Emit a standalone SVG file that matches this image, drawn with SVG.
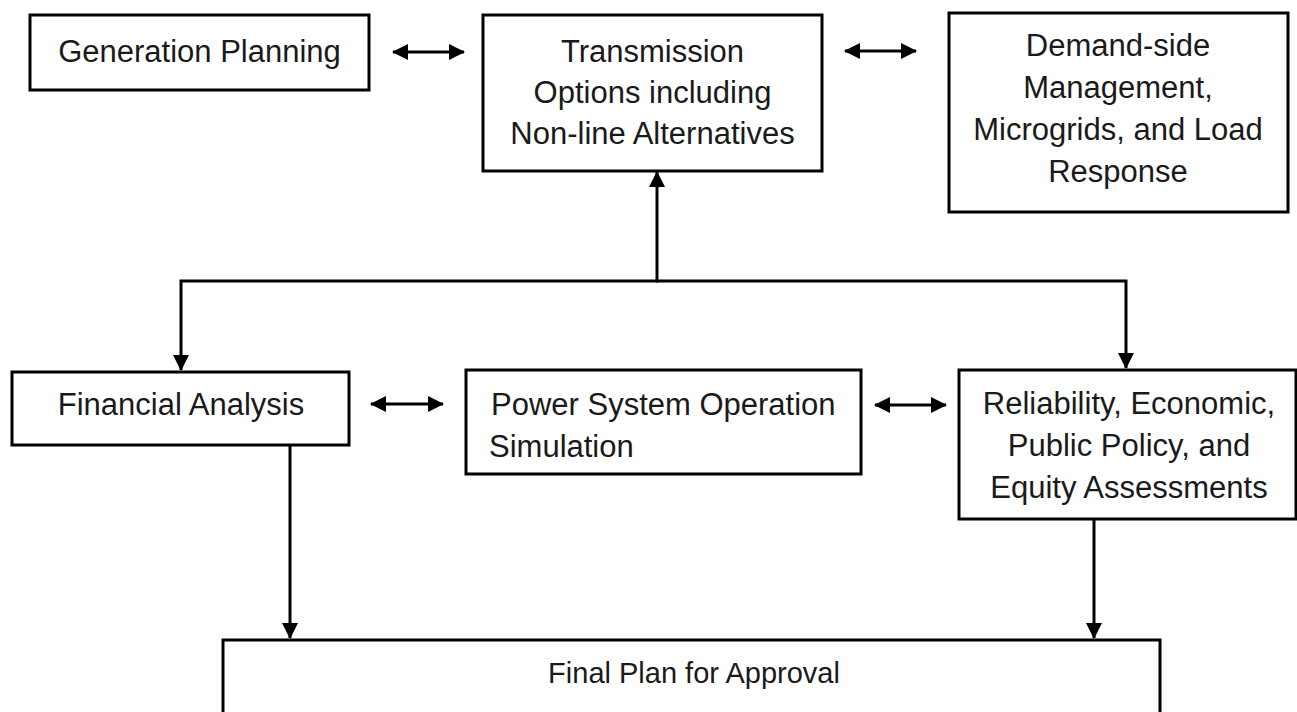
<svg xmlns="http://www.w3.org/2000/svg" width="1297" height="712" viewBox="0 0 1297 712">
<style>
.box{fill:#ffffff;stroke:#000000;stroke-width:3}
.t{font-family:"Liberation Sans",Arial,sans-serif;font-size:31px;fill:#1a1a1a;text-anchor:middle}
.ts{text-anchor:start}
.c{fill:none;stroke:#000000;stroke-width:3}
</style>
<defs>
<marker id="ah" viewBox="0 0 16 16" refX="15" refY="8" markerWidth="16" markerHeight="16" markerUnits="userSpaceOnUse" orient="auto-start-reverse">
<path d="M0,0 L16,8 L0,16 z" fill="#000000"/>
</marker>
</defs>
<rect width="1297" height="712" fill="#ffffff"/>
<g id="connectors">
<line class="c" x1="393" y1="52" x2="464" y2="52" marker-start="url(#ah)" marker-end="url(#ah)"/>
<line class="c" x1="845" y1="51" x2="916" y2="51" marker-start="url(#ah)" marker-end="url(#ah)"/>
<line class="c" x1="657" y1="281" x2="657" y2="172" marker-end="url(#ah)"/>
<polyline class="c" points="658,281 181,281 181,370" marker-end="url(#ah)"/>
<polyline class="c" points="656,281 1126,281 1126,368" marker-end="url(#ah)"/>
<line class="c" x1="371" y1="404" x2="443" y2="404" marker-start="url(#ah)" marker-end="url(#ah)"/>
<line class="c" x1="875" y1="405" x2="946" y2="405" marker-start="url(#ah)" marker-end="url(#ah)"/>
<line class="c" x1="290" y1="446" x2="290" y2="638" marker-end="url(#ah)"/>
<line class="c" x1="1094" y1="519" x2="1094" y2="638" marker-end="url(#ah)"/>
</g>
<g id="generation">
<rect class="box" x="30" y="15" width="339" height="75"/>
<text class="t" x="199.5" y="62">Generation Planning</text>
</g>
<g id="transmission">
<rect class="box" x="483" y="15" width="339" height="156"/>
<text class="t" x="652.5" y="62">Transmission</text>
<text class="t" x="652.5" y="103">Options including</text>
<text class="t" x="652.5" y="144">Non-line Alternatives</text>
</g>
<g id="demand">
<rect class="box" x="949" y="13" width="339" height="199"/>
<text class="t" x="1118" y="56">Demand-side</text>
<text class="t" x="1118" y="98">Management,</text>
<text class="t" x="1118" y="140">Microgrids, and Load</text>
<text class="t" x="1118" y="182">Response</text>
</g>
<g id="financial">
<rect class="box" x="12" y="372" width="337" height="73"/>
<text class="t" x="181" y="415">Financial Analysis</text>
</g>
<g id="power">
<rect class="box" x="466" y="370" width="395" height="104"/>
<text class="t ts" x="491" y="415">Power System Operation</text>
<text class="t ts" x="489" y="457">Simulation</text>
</g>
<g id="reliability">
<rect class="box" x="959" y="370" width="337" height="149"/>
<text class="t" x="1129" y="414">Reliability, Economic,</text>
<text class="t" x="1129" y="456">Public Policy, and</text>
<text class="t" x="1129" y="498">Equity Assessments</text>
</g>
<g id="final">
<rect class="box" x="223" y="640" width="937" height="90"/>
<text class="t" x="694" y="683" style="font-size:29px">Final Plan for Approval</text>
</g>
</svg>
